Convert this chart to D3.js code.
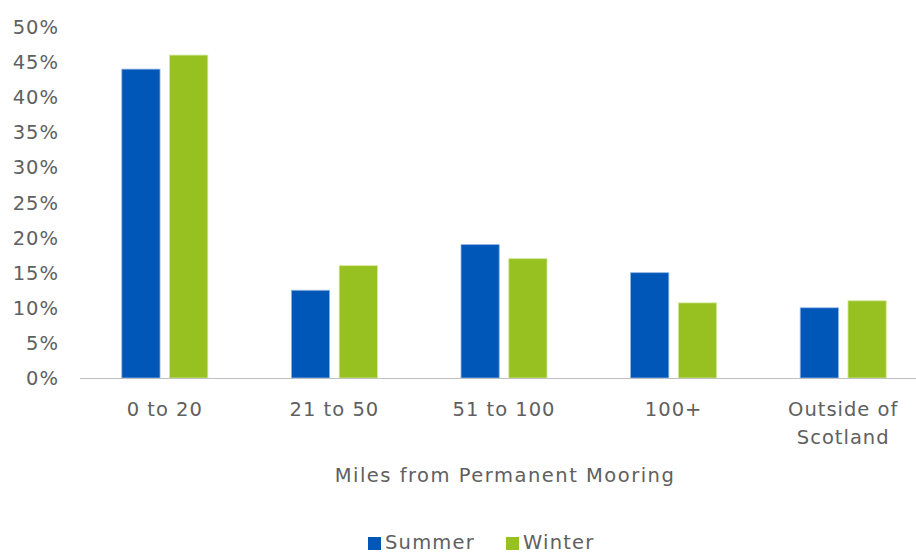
<!DOCTYPE html>
<html>
<head>
<meta charset="utf-8">
<script src="https://cdn.jsdelivr.net/npm/d3@7"></script>
<style>
  html, body { margin: 0; padding: 0; background: #fff; }
  svg text { font-family: "DejaVu Sans", sans-serif; fill: #606060; letter-spacing: 1px; }
</style>
</head>
<body>
<svg id="chart" width="916" height="554"></svg>
<script>
const categories = [["0 to 20"], ["21 to 50"], ["51 to 100"], ["100+"], ["Outside of", "Scotland"]];
const seriesNames = ["Summer", "Winter"];
const summer = [44, 12.5, 19, 15, 10];
const winter = [46, 16, 17, 10.7, 11];
const yTicks = [0, 5, 10, 15, 20, 25, 30, 35, 40, 45, 50];
const colors = ["#0057B8", "#97C121"];

const svg = d3.select("#chart");
const plotLeft = 80, plotRight = 928, plotTop = 27, plotBottom = 378;
const fontSize = 19.5;

const x = d3.scaleBand().domain(categories.map((c, i) => i)).range([plotLeft, plotRight]);
const xs = d3.scaleBand().domain(seriesNames).range([-43, 43]).paddingInner(0.2);
const y = d3.scaleLinear().domain([0, 50]).range([plotBottom, plotTop]);

// y tick labels
svg.append("g").selectAll("text").data(yTicks).join("text")
  .attr("x", 59).attr("y", d => y(d)).attr("dy", "0.36em")
  .attr("text-anchor", "end").attr("font-size", fontSize)
  .text(d => d + "%");

// bars
const table = categories.map((c, i) => ({ i, vals: [summer[i], winter[i]] }));
const groups = svg.append("g").selectAll("g").data(table).join("g")
  .attr("transform", d => `translate(${x(d.i) + x.bandwidth() / 2},0)`);
groups.selectAll("rect").data(d => d.vals.map((v, k) => ({ v, k }))).join("rect")
  .attr("x", d => xs(seriesNames[d.k]))
  .attr("width", xs.bandwidth())
  .attr("y", d => y(d.v))
  .attr("height", d => y(0) - y(d.v))
  .attr("fill", d => colors[d.k])
  .attr("stroke", d => d.k === 0 ? "#8fb4e3" : "#d3e89c")
  .attr("stroke-width", 0.8);

// baseline
svg.append("line").attr("x1", plotLeft).attr("x2", 916)
  .attr("y1", y(0) + 0.5).attr("y2", y(0) + 0.5)
  .attr("stroke", "#bfbfbf").attr("stroke-width", 1.2);

// category labels
const cl = svg.append("g").selectAll("text").data(table).join("text")
  .attr("x", d => x(d.i) + x.bandwidth() / 2)
  .attr("y", 416).attr("text-anchor", "middle").attr("font-size", fontSize);
cl.selectAll("tspan").data(d => categories[d.i]).join("tspan")
  .attr("x", function () { return d3.select(this.parentNode).attr("x"); })
  .attr("dy", (d, j) => j === 0 ? 0 : 28)
  .text(d => d);

// axis title
svg.append("text").attr("x", 505).attr("y", 482).attr("text-anchor", "middle")
  .attr("font-size", fontSize).style("letter-spacing", "1.5px")
  .text("Miles from Permanent Mooring");

// legend
const legend = svg.append("g").attr("transform", "translate(368,542)");
const items = [{ name: "Summer", dx: 0 }, { name: "Winter", dx: 138 }];
items.forEach((it, k) => {
  const g = legend.append("g").attr("transform", `translate(${it.dx},0)`);
  g.append("rect").attr("x", 0).attr("y", -5).attr("width", 13).attr("height", 13).attr("fill", colors[k]);
  g.append("text").attr("x", 17).attr("y", 0).attr("dy", "0.36em").attr("font-size", fontSize)
    .style("letter-spacing", "1.2px").text(it.name);
});
</script>
</body>
</html>
